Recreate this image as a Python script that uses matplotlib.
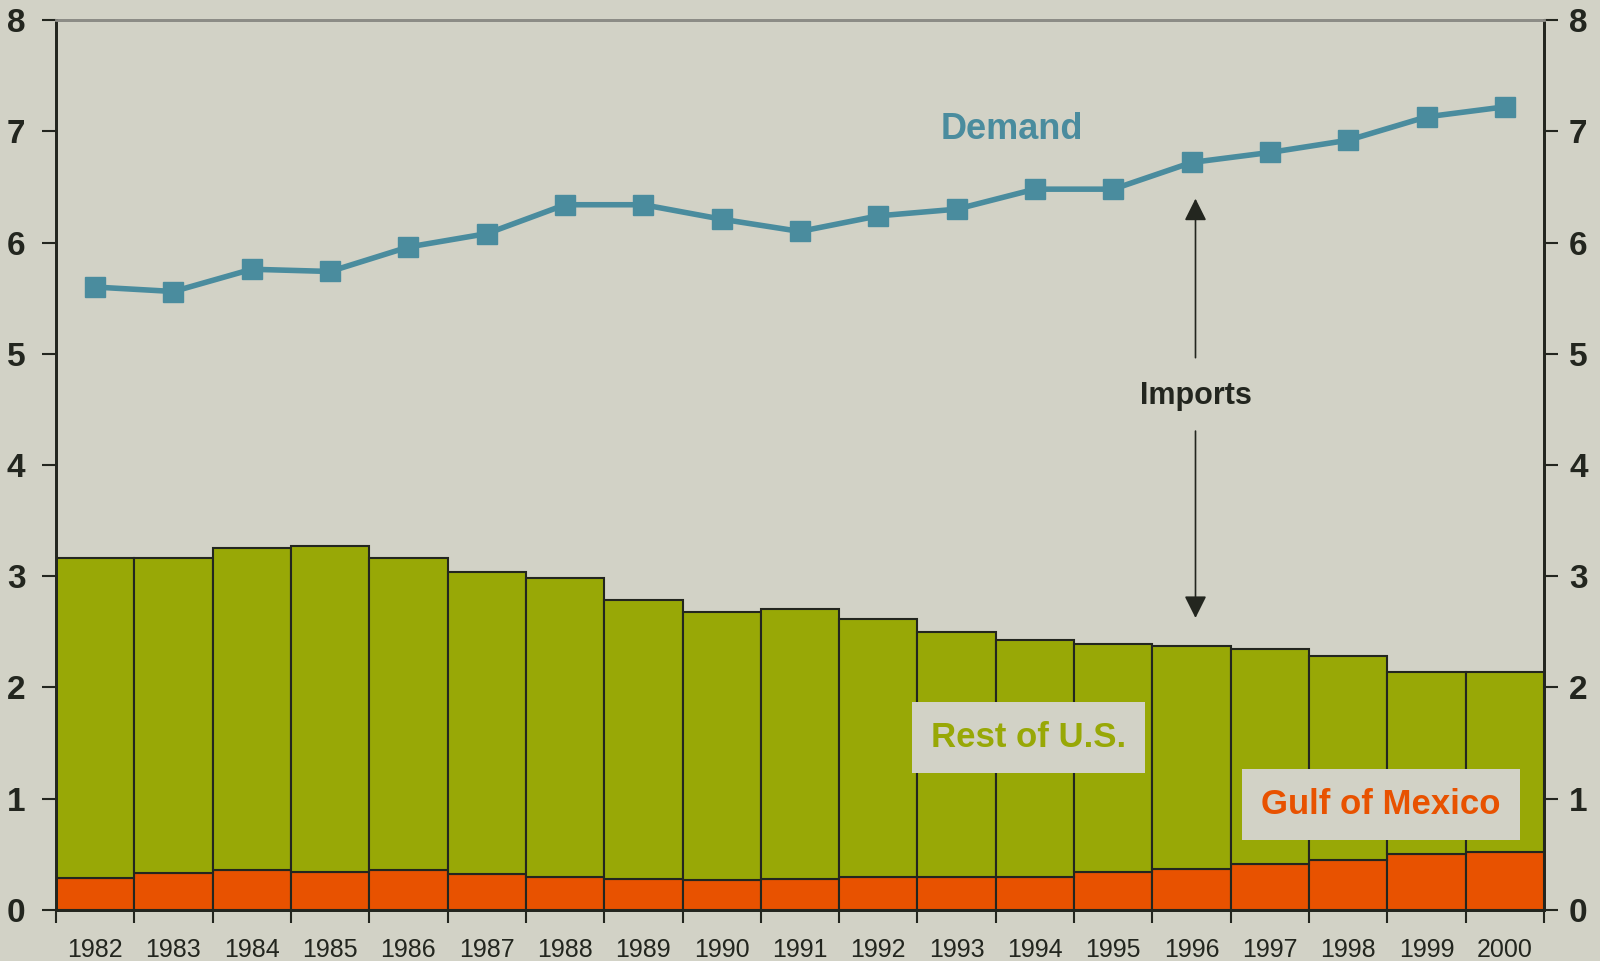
import numpy as np
import matplotlib
matplotlib.use('Agg')
import matplotlib.pyplot as plt

years = ['1982', '1983', '1984', '1985', '1986', '1987', '1988', '1989', '1990', '1991',
         '1992', '1993', '1994', '1995', '1996', '1997', '1998', '1999', '2000']
total_us = [3.16, 3.16, 3.25, 3.27, 3.16, 3.04, 2.98, 2.79, 2.68, 2.71,
            2.62, 2.50, 2.43, 2.39, 2.37, 2.35, 2.28, 2.14, 2.14]
gulf = [0.29, 0.33, 0.36, 0.34, 0.36, 0.32, 0.30, 0.28, 0.27, 0.28,
        0.30, 0.30, 0.30, 0.34, 0.37, 0.41, 0.45, 0.50, 0.52]
demand = [5.60, 5.56, 5.76, 5.74, 5.96, 6.08, 6.34, 6.34, 6.21, 6.10,
          6.24, 6.30, 6.48, 6.48, 6.72, 6.81, 6.92, 7.13, 7.22]

bg = '#d2d2c6'
green = '#98a806'
orange = '#e85200'
teal = '#4a8c9e'
dark = '#23261f'

plt.rcParams['font.family'] = ['Liberation Sans', 'DejaVu Sans']

x = np.arange(len(years))
rest = np.array(total_us) - np.array(gulf)

fig = plt.figure(figsize=(16, 9.61), dpi=100, facecolor=bg)
ax = fig.add_axes([0.035, 0.0531, 0.93, 0.926])
ax.set_facecolor(bg)

ax.bar(x, gulf, width=1.0, color=orange, edgecolor=dark, linewidth=1.5, zorder=2)
ax.bar(x, rest, width=1.0, bottom=gulf, color=green, edgecolor=dark, linewidth=1.5, zorder=2)
ax.plot(x, demand, color=teal, linewidth=4, marker='s', markersize=14, zorder=4)

ax.set_xlim(-0.5, len(years) - 0.5)
ax.set_ylim(0, 8)

# year labels sit between the tick marks
ax.set_xticks(np.arange(len(years) + 1) - 0.5)
ax.set_xticklabels([])
ax.set_xticks(x, minor=True)
ax.set_xticklabels(years, minor=True, fontsize=18, color=dark)
ax.tick_params(axis='x', which='major', length=9, width=1.5, color=dark, direction='out')
ax.tick_params(axis='x', which='minor', length=0, pad=20)

ax.set_yticks(range(9))
ax.tick_params(axis='y', length=10, width=1.5, color=dark, pad=12)
for lab in ax.get_yticklabels():
    lab.set_fontsize(24)
    lab.set_fontweight('bold')
    lab.set_color(dark)

ax2 = ax.twinx()
ax2.set_ylim(0, 8)
ax2.set_yticks(range(9))
ax2.tick_params(axis='y', length=10, width=1.5, color=dark, pad=8)
for lab in ax2.get_yticklabels():
    lab.set_fontsize(24)
    lab.set_fontweight('bold')
    lab.set_color(dark)

for a in (ax, ax2):
    for s in ['left', 'right', 'bottom']:
        a.spines[s].set_color(dark)
        a.spines[s].set_linewidth(2)
    a.spines['top'].set_color('#8c8c86')
    a.spines['top'].set_linewidth(2)

ax.text(11.7, 7.02, 'Demand', color=teal, fontsize=26, fontweight='bold',
        ha='center', va='center', zorder=5)

ax.text(11.92, 1.55, 'Rest of U.S.', color=green, fontsize=25, fontweight='bold',
        ha='center', va='center', zorder=5,
        bbox=dict(boxstyle='square,pad=0.55', facecolor=bg, edgecolor='none'))
ax.text(16.42, 0.95, 'Gulf of Mexico', color=orange, fontsize=25, fontweight='bold',
        ha='center', va='center', zorder=5,
        bbox=dict(boxstyle='square,pad=0.55', facecolor=bg, edgecolor='none'))

ax.text(14.05, 4.62, 'Imports', color=dark, fontsize=22, fontweight='bold',
        ha='center', va='center', zorder=5)
ax.annotate('', xy=(14.05, 6.42), xytext=(14.05, 4.94),
            arrowprops=dict(arrowstyle='-|>', color=dark, lw=1.2, mutation_scale=34))
ax.annotate('', xy=(14.05, 2.6), xytext=(14.05, 4.33),
            arrowprops=dict(arrowstyle='-|>', color=dark, lw=1.2, mutation_scale=34))

fig.savefig('out.png', dpi=100, facecolor=bg)
